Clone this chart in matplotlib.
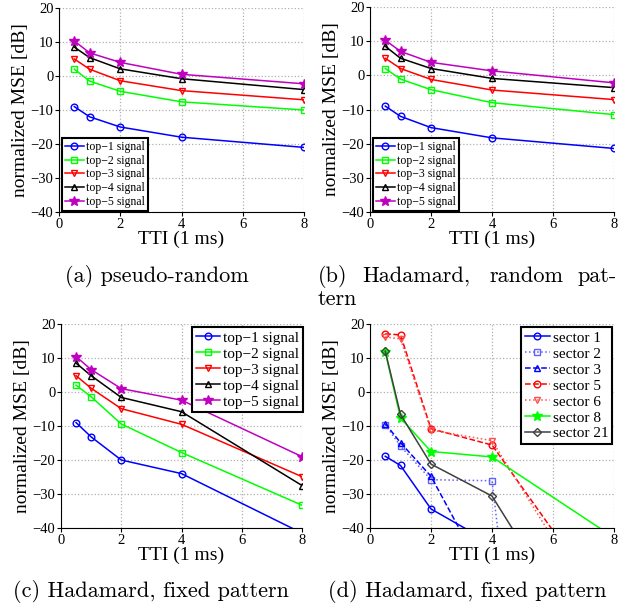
import matplotlib
matplotlib.use("Agg")
import matplotlib.pyplot as plt

plt.rcParams['font.family'] = ['Liberation Serif', 'DejaVu Serif']
plt.rcParams['axes.unicode_minus'] = True

# TTI values (1 ms units)
tti = [0.5, 1, 2, 4, 8]

# (a) pseudo-random
a_top1 = [-9, -12, -15, -18, -21]
a_top2 = [2, -1.5, -4.5, -7.6, -10]
a_top3 = [5, 2, -1.4, -4.3, -7]
a_top4 = [8.5, 5.4, 2.1, -0.8, -4]
a_top5 = [10.3, 6.8, 4, 0.5, -2.3]

# (b) Hadamard, random pattern
b_top1 = [-9, -12, -15.3, -18.3, -21.4]
b_top2 = [2, -1.1, -4.2, -8, -11.5]
b_top3 = [5, 2, -1.2, -4.3, -7.1]
b_top4 = [8.5, 5, 2, -0.9, -3.6]
b_top5 = [10.3, 7, 3.8, 1.3, -2.2]

# (c) Hadamard, fixed pattern
c_top1 = [-9, -13.2, -20, -24, -41.5]
c_top2 = [2, -1.4, -9.4, -17.8, -33.3]
c_top3 = [4.8, 1.1, -4.9, -9.5, -24.9]
c_top4 = [8.5, 4.8, -1.6, -5.8, -27.5]
c_top5 = [10.4, 6.6, 1, -2.4, -19]

# (d) Hadamard, fixed pattern, per sector
d_sec1 = [-18.9, -21.6, -34.4, -44.6, -60]
d_sec2 = [-9.6, -15.9, -25.8, -26.1, -330]
d_sec3 = [-9.3, -14.9, -24.8, -58, -90]
d_sec5 = [17.1, 16.8, -10.8, -15.6, -66]
d_sec6 = [16.2, 15.6, -11.2, -14.3, -72]
d_sec8 = [11.8, -7.6, -17.5, -19.1, -42.8]
d_sec21 = [12, -6.6, -21.2, -30.6, -88]

top_labels = ['top\u22121 signal', 'top\u22122 signal', 'top\u22123 signal',
              'top\u22124 signal', 'top\u22125 signal']
sector_labels = ['sector 1', 'sector 2', 'sector 3', 'sector 5',
                 'sector 6', 'sector 8', 'sector 21']

top_colors = ['#0000ff', '#00ff00', '#ff0000', '#000000', '#c000c0']
top_markers = ['o', 's', 'v', '^', '*']

fig = plt.figure(figsize=(6.35, 6.10), dpi=100)


def style_axes(ax):
    ax.set_xlim(0, 8)
    ax.set_ylim(-40, 20)
    ax.set_xticks([0, 2, 4, 6, 8])
    ax.set_yticks([-40, -30, -20, -10, 0, 10, 20])
    ax.spines['top'].set_visible(False)
    ax.spines['right'].set_visible(False)
    ax.grid(True, linestyle=':', color='#b0b0b0', linewidth=0.9)
    ax.set_axisbelow(True)
    ax.tick_params(direction='out', length=3, labelsize=10.5, pad=1)
    ax.set_xlabel('TTI (1 ms)', fontsize=14, labelpad=0)
    ax.set_ylabel('normalized MSE [dB]', fontsize=14, labelpad=1)


def plot_tops(ax, series):
    for vals, lab, col, mk in zip(series, top_labels, top_colors, top_markers):
        filled = mk == '*'
        ax.plot(tti, vals, color=col, marker=mk, markersize=7 if filled else 4.8,
                markerfacecolor=col if filled else 'none', markeredgewidth=1.0,
                linewidth=1.1, label=lab)


def legend(ax, loc, anchor, fs=8.5):
    leg = ax.legend(loc=loc, bbox_to_anchor=anchor, borderaxespad=0,
                    fontsize=fs, handlelength=1.6, handletextpad=0.2,
                    labelspacing=0.15, borderpad=0.25, fancybox=False,
                    framealpha=1, edgecolor='black')
    leg.get_frame().set_linewidth(1.5)


W, H = 635, 610


def add_axes(left, top, right, bottom):
    return fig.add_axes([left / W, 1 - bottom / H, (right - left) / W, (bottom - top) / H])


ax_a = add_axes(59, 8, 304, 212)
style_axes(ax_a)
plot_tops(ax_a, [a_top1, a_top2, a_top3, a_top4, a_top5])
legend(ax_a, 'lower left', (0.012, 0.005))

ax_b = add_axes(370, 7, 614, 212)
style_axes(ax_b)
plot_tops(ax_b, [b_top1, b_top2, b_top3, b_top4, b_top5])
legend(ax_b, 'lower left', (0.012, 0.005))

ax_c = add_axes(61, 324, 302, 528)
style_axes(ax_c)
plot_tops(ax_c, [c_top1, c_top2, c_top3, c_top4, c_top5])
legend(ax_c, 'upper right', (1.004, 0.985), fs=11)

ax_d = add_axes(370, 324, 614, 528)
style_axes(ax_d)
sector_series = [d_sec1, d_sec2, d_sec3, d_sec5, d_sec6, d_sec8, d_sec21]
sector_styles = [
    ('#0000ff', 'o', '-'),
    ('#6060ff', 's', ':'),
    ('#0000ff', '^', '--'),
    ('#ff0000', 'o', '--'),
    ('#ff5050', 'v', ':'),
    ('#00ff00', '*', '-'),
    ('#404040', 'D', '-'),
]
for vals, lab, (col, mk, ls) in zip(sector_series, sector_labels, sector_styles):
    filled = mk == '*'
    ax_d.plot(tti, vals, color=col, marker=mk, linestyle=ls,
              markersize=7 if filled else (3.8 if mk == 'D' else 4.8),
              markerfacecolor=col if filled else 'none', markeredgewidth=1.0,
              linewidth=1.1, label=lab)
legend(ax_d, 'upper right', (0.992, 0.985), fs=11)

# captions
cap = dict(fontsize=16, family='cmr10', ha='left', va='baseline')
fig.text(65 / W, 1 - 282 / H, '(a) pseudo-random', **cap)
fig.text(318 / W, 1 - 282 / H, '(b)', **cap)
fig.text(362 / W, 1 - 282 / H, 'Hadamard,', **cap)
fig.text(489 / W, 1 - 282 / H, 'random', **cap)
fig.text(617 / W, 1 - 282 / H, 'pat-', ha='right', va='baseline',
         fontsize=16, family='cmr10')
fig.text(318 / W, 1 - 305 / H, 'tern', **cap)
fig.text(13 / W, 1 - 597 / H, '(c) Hadamard, fixed pattern', **cap)
fig.text(328 / W, 1 - 597 / H, '(d) Hadamard, fixed pattern', **cap)

fig.savefig('out.png', dpi=100)
